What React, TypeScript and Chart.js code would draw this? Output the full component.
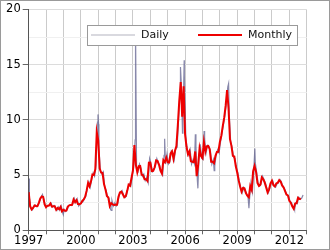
import React, { useEffect, useRef } from "react";
import { Chart, registerables } from "chart.js";

Chart.register(...registerables);

const START_YEAR = 1997;
const X_MIN = 1997;
const X_MAX = 2013;
const Y_MIN = 0;
const Y_MAX = 20;
const xLabelYears = [1997, 2000, 2003, 2006, 2009, 2012];
const yLabelValues = [0, 5, 10, 15, 20];
const seriesLabels = ["Daily", "Monthly"];

// Monthly averages, Jan..Dec of each year
const monthly1997 = [3.45, 2.15, 1.89, 2.03, 2.25, 2.2, 2.19, 2.49, 2.88, 3.07, 3.01, 2.35];
const monthly1998 = [2.09, 2.23, 2.24, 2.43, 2.14, 2.17, 2.17, 1.85, 2.02, 1.91, 2.12, 1.72];
const monthly1999 = [1.85, 1.77, 1.79, 2.15, 2.26, 2.3, 2.31, 2.8, 2.55, 2.73, 2.37, 2.36];
const monthly2000 = [2.42, 2.66, 2.79, 3.04, 3.59, 4.29, 3.99, 4.43, 5.06, 5.02, 5.52, 8.9];
const monthly2001 = [8.17, 5.61, 5.23, 5.19, 4.19, 3.72, 3.11, 2.97, 2.19, 2.46, 2.34, 2.3];
const monthly2002 = [2.32, 2.32, 3.03, 3.43, 3.5, 3.26, 2.99, 3.09, 3.55, 4.13, 4.04, 4.74];
const monthly2003 = [5.43, 7.71, 5.93, 5.26, 5.81, 5.82, 5.03, 4.99, 4.62, 4.63, 4.47, 6.13];
const monthly2004 = [6.14, 5.37, 5.39, 5.71, 6.33, 6.27, 5.93, 5.41, 5.15, 6.35, 6.17, 6.58];
const monthly2005 = [6.15, 6.14, 6.96, 7.16, 6.47, 7.18, 7.63, 9.53, 11.75, 13.42, 10.3, 13.05];
const monthly2006 = [8.69, 7.54, 6.89, 7.16, 6.25, 6.21, 6.17, 7.14, 4.9, 5.85, 7.41, 6.73];
const monthly2007 = [6.55, 8.0, 7.11, 7.6, 7.64, 7.35, 6.22, 6.22, 6.08, 6.74, 7.1, 7.11];
const monthly2008 = [7.99, 8.54, 9.41, 10.18, 11.27, 12.69, 11.09, 8.26, 7.67, 6.74, 6.68, 5.82];
const monthly2009 = [5.24, 4.52, 3.96, 3.5, 3.83, 3.8, 3.38, 3.14, 2.99, 4.01, 3.66, 5.35];
const monthly2010 = [5.83, 5.32, 4.29, 4.03, 4.14, 4.8, 4.63, 4.32, 3.89, 3.43, 3.71, 4.25];
const monthly2011 = [4.49, 4.09, 3.97, 4.24, 4.31, 4.54, 4.42, 4.06, 3.9, 3.57, 3.24, 3.17];
const monthly2012 = [2.67, 2.5, 2.17, 1.95, 2.43, 2.46, 2.95, 2.84, 2.85];

// Daily readings around mid-month, Jan..Dec of each year
const dailyMid1997 = [2.9, 2.05, 1.85, 2.1, 2.3, 2.15, 2.25, 2.6, 2.95, 3.25, 2.8, 2.2];
const dailyMid1998 = [2.15, 2.2, 2.3, 2.45, 2.1, 2.25, 2.05, 1.8, 2.1, 1.8, 2.2, 1.55];
const dailyMid1999 = [1.9, 1.7, 1.85, 2.2, 2.3, 2.25, 2.4, 2.9, 2.5, 2.85, 2.2, 2.4];
const dailyMid2000 = [2.5, 2.6, 2.85, 3.1, 3.8, 4.4, 3.9, 4.6, 5.2, 4.9, 5.9, 9.8];
const dailyMid2001 = [7.5, 5.4, 5.1, 5.3, 3.9, 3.6, 3.0, 2.9, 1.9, 2.7, 2.2, 2.5];
const dailyMid2002 = [2.2, 2.4, 3.2, 3.4, 3.6, 3.2, 2.95, 3.1, 3.8, 4.2, 4.0, 4.9];
const dailyMid2003 = [5.7, 8.2, 5.5, 5.3, 6.0, 5.6, 4.9, 5.1, 4.5, 4.8, 4.3, 6.5];
const dailyMid2004 = [6.0, 5.3, 5.5, 5.8, 6.5, 6.1, 5.9, 5.3, 5.0, 6.8, 6.0, 6.9];
const dailyMid2005 = [6.0, 6.2, 7.2, 7.0, 6.4, 7.4, 7.5, 10.0, 12.5, 13.0, 9.8, 14.0];
const dailyMid2006 = [8.5, 7.3, 6.8, 7.3, 6.0, 6.4, 6.0, 7.6, 4.5, 6.3, 7.8, 6.5];
const dailyMid2007 = [6.4, 8.3, 7.0, 7.7, 7.6, 7.2, 6.0, 6.4, 5.8, 6.9, 7.3, 7.0];
const dailyMid2008 = [8.0, 8.8, 9.6, 10.4, 11.5, 13.0, 10.5, 8.0, 7.5, 6.6, 6.5, 5.6];
const dailyMid2009 = [5.2, 4.4, 3.8, 3.4, 3.9, 3.7, 3.3, 3.0, 2.8, 4.3, 3.5, 5.6];
const dailyMid2010 = [6.1, 5.2, 4.2, 4.0, 4.2, 4.9, 4.6, 4.3, 3.8, 3.4, 3.8, 4.3];
const dailyMid2011 = [4.5, 4.0, 3.9, 4.2, 4.3, 4.6, 4.4, 4.0, 3.8, 3.5, 3.2, 3.1];
const dailyMid2012 = [2.6, 2.5, 2.1, 1.9, 2.5, 2.4, 3.0, 2.8, 2.9, 3.2];

// Notable daily extremes
const dailySpikeDates = [
  "1997-01-08", "1998-12-28", "2000-12-27", "2001-01-10", "2001-10-01",
  "2003-02-25", "2004-10-28", "2005-09-26", "2005-11-08", "2005-12-13",
  "2006-08-04", "2006-09-27", "2007-02-05", "2007-09-04", "2008-07-03",
  "2009-09-04", "2010-01-07", "2012-04-20",
];
const dailySpikeValues = [
  4.7, 1.4, 10.5, 9.6, 1.8,
  18.4, 8.3, 14.8, 8.8, 15.4,
  8.7, 3.8, 9.0, 5.4, 13.3,
  2.0, 7.4, 1.85,
];

const monthlyValues = [
  ...monthly1997, ...monthly1998, ...monthly1999, ...monthly2000,
  ...monthly2001, ...monthly2002, ...monthly2003, ...monthly2004,
  ...monthly2005, ...monthly2006, ...monthly2007, ...monthly2008,
  ...monthly2009, ...monthly2010, ...monthly2011, ...monthly2012,
];
const dailyMidValues = [
  ...dailyMid1997, ...dailyMid1998, ...dailyMid1999, ...dailyMid2000,
  ...dailyMid2001, ...dailyMid2002, ...dailyMid2003, ...dailyMid2004,
  ...dailyMid2005, ...dailyMid2006, ...dailyMid2007, ...dailyMid2008,
  ...dailyMid2009, ...dailyMid2010, ...dailyMid2011, ...dailyMid2012,
];

function dateToYear(s: string): number {
  const [y, m, d] = s.split("-").map(Number);
  return y + (m - 1 + (d - 1) / 30.5) / 12;
}

const monthlyPoints = monthlyValues.map((v, i) => ({ x: START_YEAR + i / 12, y: v }));
const dailyPoints = [
  ...dailyMidValues.map((v, i) => ({ x: START_YEAR + (i + 0.5) / 12, y: v })),
  ...dailySpikeDates.map((d, i) => ({ x: dateToYear(d), y: dailySpikeValues[i] })),
].sort((a, b) => a.x - b.x);

const FONT = "'DejaVu Sans', sans-serif";
const RED = "#ee0000";
const DAILY_COLOR = "rgba(85,85,135,0.7)";

const legendPlugin = {
  id: "boxLegend",
  afterDraw(chart: any) {
    const { ctx, chartArea } = chart;
    const w = 210;
    const h = 20;
    const left = chartArea.right - 9.7 - w;
    const top = chartArea.top + 15.5;
    ctx.save();
    ctx.fillStyle = "#ffffff";
    ctx.fillRect(left, top, w, h);
    ctx.strokeStyle = "#9a9a9a";
    ctx.lineWidth = 1;
    ctx.strokeRect(Math.round(left) + 0.5, Math.round(top) + 0.5, w, h);
    const cy = top + h / 2;
    // Daily
    ctx.strokeStyle = "rgba(120,120,140,0.7)";
    ctx.lineWidth = 0.8;
    ctx.beginPath();
    ctx.moveTo(left + 4, cy);
    ctx.lineTo(left + 48, cy);
    ctx.stroke();
    // Monthly
    ctx.strokeStyle = RED;
    ctx.lineWidth = 2;
    ctx.beginPath();
    ctx.moveTo(left + 111, cy);
    ctx.lineTo(left + 155, cy);
    ctx.stroke();
    ctx.fillStyle = "#111";
    ctx.font = `11px ${FONT}`;
    ctx.textBaseline = "middle";
    ctx.textAlign = "left";
    ctx.fillText(seriesLabels[0], left + 54, cy + 0.5);
    ctx.fillText(seriesLabels[1], left + 161, cy + 0.5);
    ctx.restore();
  },
};

export default function App() {
  const canvasRef = useRef<HTMLCanvasElement | null>(null);

  useEffect(() => {
    document.body.style.margin = "0";
    const canvas = canvasRef.current;
    if (!canvas) return;
    const chart = new Chart(canvas, {
      type: "line",
      data: {
        datasets: [
          {
            label: seriesLabels[1],
            data: monthlyPoints,
            borderColor: RED,
            borderWidth: 2,
            pointRadius: 0,
            tension: 0,
            order: 0,
          },
          {
            label: seriesLabels[0],
            data: dailyPoints,
            borderColor: DAILY_COLOR,
            borderWidth: 1.2,
            pointRadius: 0,
            tension: 0,
            order: 1,
          },
        ],
      },
      options: {
        animation: false,
        responsive: false,
        maintainAspectRatio: false,
        parsing: false as any,
        layout: { padding: { left: 0, right: 23.3, top: 9.5, bottom: 0 } },
        plugins: { legend: { display: false }, tooltip: { enabled: false } },
        scales: {
          x: {
            type: "linear",
            min: X_MIN,
            max: X_MAX,
            afterFit: (s: any) => {
              s.height = 19.7;
            },
            afterBuildTicks: (s: any) => {
              const t = [];
              for (let y = X_MIN; y <= X_MAX; y++) t.push({ value: y });
              s.ticks = t;
            },
            ticks: {
              autoSkip: false,
              maxRotation: 0,
              padding: 0,
              color: "#000",
              font: { family: FONT, size: 11.5 },
              callback: (v: any) => (xLabelYears.includes(Number(v)) ? String(v) : ""),
            },
            grid: {
              color: "#cbcbcb",
              lineWidth: 1,
              tickLength: 4,
              tickColor: "#666",
            },
            border: { display: true, color: "#555", width: 1 },
          },
          y: {
            min: Y_MIN,
            max: Y_MAX,
            afterFit: (s: any) => {
              s.width = 28.7;
            },
            afterBuildTicks: (s: any) => {
              const t = [];
              for (let v = Y_MIN; v <= Y_MAX; v += 2.5) t.push({ value: v });
              s.ticks = t;
            },
            ticks: {
              padding: 2,
              color: "#000",
              font: { family: FONT, size: 11.5 },
              callback: (v: any) => (yLabelValues.includes(Number(v)) ? String(v) : ""),
            },
            grid: {
              color: (c: any) =>
                c.tick && c.tick.value % 5 === 0 ? "#dcdcdc" : "#f0f0f0",
              lineWidth: 1,
              tickLength: 6,
              tickColor: (c: any) =>
                c.tick && c.tick.value % 5 === 0 ? "#666" : "rgba(0,0,0,0)",
            },
            border: { display: true, color: "#555", width: 1 },
          },
        },
      },
      plugins: [legendPlugin],
    });
    return () => chart.destroy();
  }, []);

  return (
    <div style={{ position: "relative", width: 330, height: 250 }}>
      <canvas ref={canvasRef} width={330} height={250} style={{ display: "block", width: 330, height: 250 }} />
      <div
        style={{
          position: "absolute",
          left: 0,
          top: 0,
          width: 330,
          height: 250,
          boxSizing: "border-box",
          border: "1px solid #9a9a9a",
          pointerEvents: "none",
        }}
      />
    </div>
  );
}
